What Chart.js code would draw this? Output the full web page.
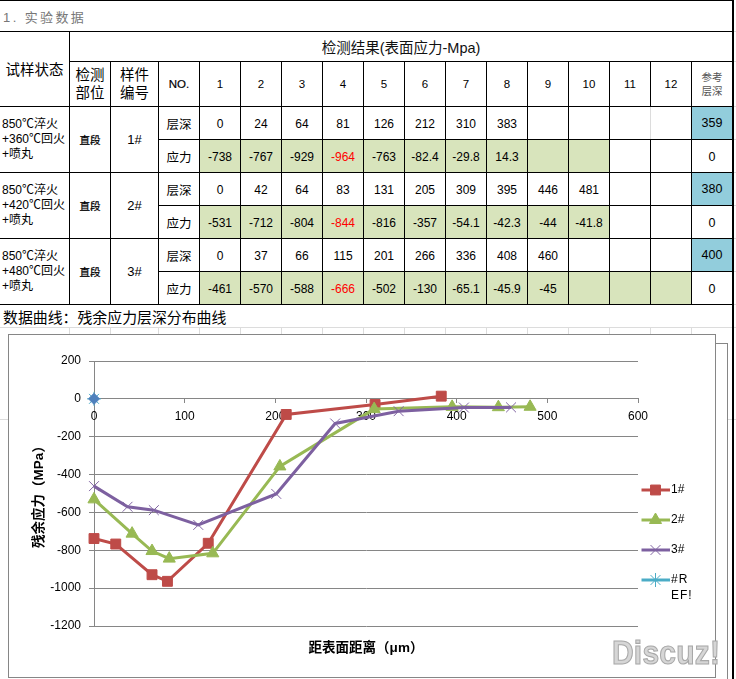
<!DOCTYPE html>
<html lang="zh">
<head>
<meta charset="utf-8">
<style>
html,body{margin:0;padding:0;background:#fff;width:736px;height:679px;overflow:hidden}
body{font-family:"Liberation Sans","Noto Sans CJK SC",sans-serif;color:#000;position:relative}
.t{position:absolute;display:flex;align-items:center;justify-content:center;text-align:center;white-space:pre-line;box-sizing:border-box}
.l{position:absolute}
canvas{position:absolute;left:0;top:0}
#wm{position:absolute;left:612px;top:634px;font:bold 30px "Liberation Sans",sans-serif;color:#d6d6d6;-webkit-text-stroke:1px #a8a8a8;transform:scaleY(1.12);transform-origin:left top;letter-spacing:.2px}
</style>
<script src="https://cdn.jsdelivr.net/npm/chart.js@4/dist/chart.umd.js"></script>
</head>
<body>
<canvas id="c" width="736" height="679"></canvas>
<div id="wm">Discuz!</div>
<script>
// ---- data ----
const depth1 = [0, 24, 64, 81, 126, 212, 310, 383];
const stress1 = [-738, -767, -929, -964, -763, -82.4, -29.8, 14.3];
const depth2 = [0, 42, 64, 83, 131, 205, 309, 395, 446, 481];
const stress2 = [-531, -712, -804, -844, -816, -357, -54.1, -42.3, -44, -41.8];
const depth3 = [0, 37, 66, 115, 201, 266, 336, 408, 460];
const stress3 = [-461, -570, -588, -666, -502, -130, -65.1, -45.9, -45];
const refDepth = [0];
const refStress = [0];
const blueDepth = [0];
const blueStress = [0];
const refLayer = ["359", "380", "400"];
const samples = ["1#", "2#", "3#"];
const treatments = ["850℃淬火\n+360℃回火\n+喷丸", "850℃淬火\n+420℃回火\n+喷丸", "850℃淬火\n+480℃回火\n+喷丸"];
const xTicks = [0, 100, 200, 300, 400, 500, 600];
const yTicks = [200, 0, -200, -400, -600, -800, -1000, -1200];
const seriesNames = ["1#", "2#", "3#", "#R\nEF!"];

// ---- table ----
const colX = [199,240,281,322,363,404,445,486,527,568,609,650,691,732];
const rowY = [106,139,172,205,238,271,304];
const body = document.body;
function line(x,y,w,h,c){const d=document.createElement('div');d.className='l';
  d.style.cssText=`left:${x}px;top:${y}px;width:${w}px;height:${h}px;background:${c}`;body.insertBefore(d,body.firstChild);}
function txt(x1,y1,x2,y2,s,css){const d=document.createElement('div');d.className='t';d.textContent=s;
  d.style.cssText=`left:${x1}px;top:${y1}px;width:${x2-x1}px;height:${y2-y1}px;font-size:12px;`+(css||'');body.insertBefore(d,body.firstChild);}
const K='#000', G='#dcdcdc', F='#868686';
const NUDGE="padding-top:2px;";

txt(3,5,120,27,"1. 实验数据","justify-content:flex-start;font-size:13px;letter-spacing:2.4px;color:#777");
txt(69,32,733,61,"检测结果(表面应力-Mpa)","font-size:14.5px;color:#111");
txt(0,32,69,106,"试样状态","font-size:14.5px;align-items:flex-start;line-height:76px");
txt(70,62,110,106,"检测\n部位","font-size:14.5px;line-height:18px");
txt(111,62,158,106,"样件\n编号","font-size:14.5px;line-height:18px");
txt(159,62,199,106,"NO.","font-size:11.5px;-webkit-text-stroke:.2px #000");
for(let i=0;i<12;i++) txt(colX[i]+1,62,colX[i+1],106,String(i+1),"font-size:11.5px");
txt(692,62,732,106,"参考\n层深","font-size:10.5px;line-height:14px;color:#555");
const depths=[depth1,depth2,depth3], stresses=[stress1,stress2,stress3];
const greenCols=[10,10,12];
for(let g=0;g<3;g++){
  const y0=rowY[g*2], y1=rowY[g*2+1], y2=rowY[g*2+2];
  txt(2,y0+1,69,y2,treatments[g],"justify-content:flex-start;text-align:left;line-height:15px;font-size:12px");
  txt(70,y0+1,110,y2,"直段","font-size:10.5px;-webkit-text-stroke:.25px #000");
  txt(111,y0+1,158,y2,samples[g],"font-size:13px");
  txt(159,y0+1,199,y1,"层深","font-size:12.5px");
  txt(159,y1+1,199,y2,"应力","font-size:12.5px");
  txt(692,y0+1,732,y1,refLayer[g],"font-size:12.5px;background:#92CDDC");
  txt(692,y1+1,732,y2,"0",NUDGE+"font-size:12.5px");
  for(let i=0;i<12;i++){
    const a=colX[i]+1,b=colX[i+1];
    if(i<depths[g].length) txt(a,y0+1,b,y1,String(depths[g][i]),NUDGE+"font-size:12px");
    const red=i===3?"color:#f00;":"";
    const bg=i<greenCols[g]?"background:#D8E4BC;":"";
    txt(a,y1+1,b,y2,i<stresses[g].length?String(stresses[g][i]):"",NUDGE+red+bg);
  }
}
txt(3,305,300,327,"数据曲线：残余应力层深分布曲线","justify-content:flex-start;font-size:14.9px");

// rules
[0,31,106,172,238,304].forEach(y=>line(0,y,733,1,K));
[61,139,205,271].forEach(y=>line(y===61?69:158,y,y===61?664:575,1,K));
[69,110,158].forEach(x=>line(x,x===69?31:61,1,x===69?273:243,K));
colX.slice(0,13).forEach(x=>{ if(x===650){line(x,61,1,45,K);line(x,106,1,33,G);line(x,139,1,165,K);} else line(x,61,1,243,K); });
line(732,0,1.5,679,K);
// sheet gridlines behind the chart
line(0,327,733,1,G);
[69,110,158].concat(colX.slice(0,13)).forEach(x=>line(x,327,1,7,G));
line(0,419,8,1,G);line(728,419,5,1,G);line(734,419,2,1,G);
[31,61,106,139,172,205,238,271,304,327].forEach(y=>line(734,y,2,1,G));
// chart frames
line(8,334,708,1,F);line(8,334,1,344,F);line(8,677,708,1,F);line(715,334,1,344,F);
line(715,343,13,1,F);line(727,343,1,336,F);

// ---- chart ----
const FONT='"Liberation Sans","Noto Sans CJK SC",sans-serif';
const pts=(xs,ys)=>xs.map((x,i)=>({x,y:ys[i]}));
const datasets=[
 {label:"1#",data:pts(depth1,stress1),borderColor:"#BE4B48",backgroundColor:"#BE4B48",pointBackgroundColor:"#BE4B48",pointBorderColor:"#BE4B48",pointStyle:"rect",pointRadius:7,pointBorderWidth:1,borderWidth:3,order:5},
 {label:"2#",data:pts(depth2,stress2),borderColor:"#98B954",backgroundColor:"#98B954",pointBackgroundColor:"#98B954",pointBorderColor:"#98B954",pointStyle:"triangle",pointRadius:7,pointBorderWidth:1,borderWidth:3,order:4},
 {label:"3#",data:pts(depth3,stress3),borderColor:"#7D60A0",backgroundColor:"#7D60A0",pointBackgroundColor:"#8064A2",pointBorderColor:"#8064A2",pointStyle:"crossRot",pointRadius:7,pointBorderWidth:1,borderWidth:3,order:3},
 {label:"#REF!",data:pts(refDepth,refStress),borderColor:"#4BACC6",backgroundColor:"#4BACC6",pointBackgroundColor:"#4BACC6",pointBorderColor:"#4BACC6",pointStyle:"star",pointRadius:7,pointBorderWidth:1,borderWidth:3,order:2},
 {label:"",data:pts(blueDepth,blueStress),borderColor:"#4F81BD",backgroundColor:"#4F81BD",pointBackgroundColor:"#4F81BD",pointBorderColor:"#4F81BD",pointStyle:"rectRot",pointRadius:5.5,pointBorderWidth:1,borderWidth:3,order:1}
];
datasets.forEach(d=>{d.showLine=true;d.tension=0;d.clip=false;});

const legendPlugin={id:'sideLegend',afterDraw(ch){
  const ctx=ch.ctx;
  const ys=[490,520,550,580];
  seriesNames.forEach((name,i)=>{
    const d=datasets[i], y=ys[i];
    ctx.save();
    ctx.strokeStyle=d.borderColor;ctx.lineWidth=3;
    ctx.beginPath();ctx.moveTo(641.5,y);ctx.lineTo(670,y);ctx.stroke();
    ctx.strokeStyle=d.pointBorderColor;ctx.fillStyle=d.pointBackgroundColor;ctx.lineWidth=1;
    Chart.helpers.drawPoint(ctx,{pointStyle:d.pointStyle,radius:d.pointRadius,rotation:0,borderWidth:1},655.5,y);
    ctx.fillStyle='#000';ctx.font='12px '+FONT;ctx.textBaseline='middle';ctx.textAlign='left';
    name.split('\n').forEach((p,k)=>{ctx.letterSpacing=k||name.length>2?'1px':'0px';ctx.fillText(p,671,y+k*16);});
    ctx.restore();
  });
}};

new Chart(document.getElementById('c'),{
 type:'scatter',
 data:{datasets},
 plugins:[legendPlugin],
 options:{
  responsive:false,animation:false,devicePixelRatio:1,
  layout:{padding:{top:361,right:98,left:0,bottom:0}},
  plugins:{legend:{display:false},tooltip:{enabled:false},title:{display:false}},
  scales:{
   y:{type:'linear',position:'left',min:-1200,max:200,
      afterBuildTicks:s=>{s.ticks=yTicks.map(v=>({value:v}));},
      afterFit:s=>{s.width=94;},
      grid:{color:F,lineWidth:1,tickLength:5,tickColor:F},
      border:{color:F,width:1},
      ticks:{color:'#000',font:{family:FONT,size:12},padding:8,callback:v=>String(v),autoSkip:false},
      title:{display:true,text:"残余应力（MPa）",color:'#000',font:{family:FONT,size:13.5,weight:'bold'},padding:{top:31,bottom:0}}},
   x:{type:'linear',position:{y:0},min:0,max:600,
      afterBuildTicks:s=>{s.ticks=xTicks.map(v=>({value:v}));},
      grid:{drawOnChartArea:false,tickLength:4,tickColor:F,color:F},
      border:{color:F,width:1},
      ticks:{color:'#000',font:{family:FONT,size:12},padding:7,maxRotation:0,autoSkip:false,callback:v=>String(v)}},
   xTitle:{type:'linear',axis:'x',position:'bottom',min:0,max:600,
      afterFit:s=>{s.height=53;},
      grid:{display:false},border:{display:false},ticks:{display:false},
      title:{display:true,text:"距表面距离（μm）",color:'#000',font:{family:FONT,size:13.5,weight:'bold'},padding:{top:0,bottom:23}}}
  }
 }
});
</script>
</body>
</html>
